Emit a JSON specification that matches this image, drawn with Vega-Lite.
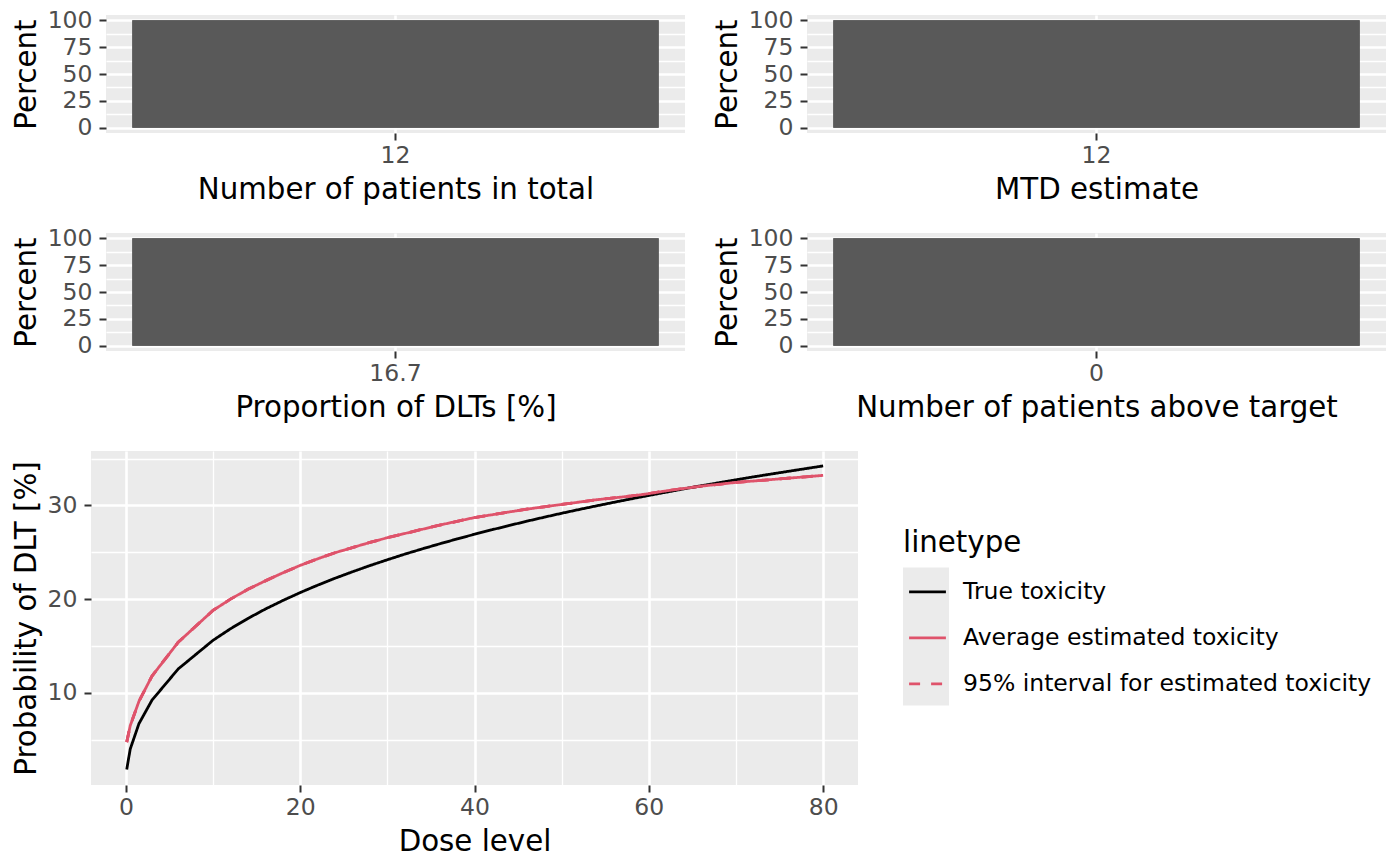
{
  "$schema": "https://vega.github.io/schema/vega-lite/v6.json",
  "description": "Simulation summary: bar panels and true vs estimated toxicity curves.",
  "padding": {"left": 12, "top": 8, "right": 5, "bottom": 5},
  "background": "white",
  "datasets": {
    "bars": [
      {"panel": "Number of patients in total", "value": "12", "percent": 100},
      {"panel": "MTD estimate", "value": "12", "percent": 100},
      {"panel": "Proportion of DLTs [%]", "value": "16.7", "percent": 100},
      {"panel": "Number of patients above target", "value": "0", "percent": 100}
    ],
    "curves": [
      {"dose": 0.1, "True toxicity": 1.84, "Average estimated toxicity": 4.75, "lower": 4.75, "upper": 4.75},
      {"dose": 0.5, "True toxicity": 4.01, "Average estimated toxicity": 6.5, "lower": 6.5, "upper": 6.5},
      {"dose": 1.5, "True toxicity": 6.72, "Average estimated toxicity": 9.1, "lower": 9.1, "upper": 9.1},
      {"dose": 3, "True toxicity": 9.23, "Average estimated toxicity": 11.8, "lower": 11.8, "upper": 11.8},
      {"dose": 6, "True toxicity": 12.55, "Average estimated toxicity": 15.4, "lower": 15.4, "upper": 15.4},
      {"dose": 10, "True toxicity": 15.61, "Average estimated toxicity": 18.8, "lower": 18.8, "upper": 18.8},
      {"dose": 12, "True toxicity": 16.84, "Average estimated toxicity": 20.0, "lower": 20.0, "upper": 20.0},
      {"dose": 14, "True toxicity": 17.94, "Average estimated toxicity": 21.05, "lower": 21.05, "upper": 21.05},
      {"dose": 16, "True toxicity": 18.94, "Average estimated toxicity": 21.95, "lower": 21.95, "upper": 21.95},
      {"dose": 18, "True toxicity": 19.85, "Average estimated toxicity": 22.8, "lower": 22.8, "upper": 22.8},
      {"dose": 20, "True toxicity": 20.7, "Average estimated toxicity": 23.6, "lower": 23.6, "upper": 23.6},
      {"dose": 22, "True toxicity": 21.49, "Average estimated toxicity": 24.3, "lower": 24.3, "upper": 24.3},
      {"dose": 24, "True toxicity": 22.23, "Average estimated toxicity": 24.95, "lower": 24.95, "upper": 24.95},
      {"dose": 26, "True toxicity": 22.92, "Average estimated toxicity": 25.5, "lower": 25.5, "upper": 25.5},
      {"dose": 28, "True toxicity": 23.58, "Average estimated toxicity": 26.05, "lower": 26.05, "upper": 26.05},
      {"dose": 30, "True toxicity": 24.2, "Average estimated toxicity": 26.55, "lower": 26.55, "upper": 26.55},
      {"dose": 32, "True toxicity": 24.8, "Average estimated toxicity": 27.0, "lower": 27.0, "upper": 27.0},
      {"dose": 34, "True toxicity": 25.36, "Average estimated toxicity": 27.45, "lower": 27.45, "upper": 27.45},
      {"dose": 36, "True toxicity": 25.9, "Average estimated toxicity": 27.9, "lower": 27.9, "upper": 27.9},
      {"dose": 38, "True toxicity": 26.42, "Average estimated toxicity": 28.3, "lower": 28.3, "upper": 28.3},
      {"dose": 40, "True toxicity": 26.92, "Average estimated toxicity": 28.7, "lower": 28.7, "upper": 28.7},
      {"dose": 42, "True toxicity": 27.4, "Average estimated toxicity": 29.0, "lower": 29.0, "upper": 29.0},
      {"dose": 44, "True toxicity": 27.86, "Average estimated toxicity": 29.3, "lower": 29.3, "upper": 29.3},
      {"dose": 46, "True toxicity": 28.31, "Average estimated toxicity": 29.6, "lower": 29.6, "upper": 29.6},
      {"dose": 48, "True toxicity": 28.74, "Average estimated toxicity": 29.85, "lower": 29.85, "upper": 29.85},
      {"dose": 50, "True toxicity": 29.16, "Average estimated toxicity": 30.1, "lower": 30.1, "upper": 30.1},
      {"dose": 52, "True toxicity": 29.56, "Average estimated toxicity": 30.35, "lower": 30.35, "upper": 30.35},
      {"dose": 54, "True toxicity": 29.95, "Average estimated toxicity": 30.6, "lower": 30.6, "upper": 30.6},
      {"dose": 56, "True toxicity": 30.33, "Average estimated toxicity": 30.8, "lower": 30.8, "upper": 30.8},
      {"dose": 58, "True toxicity": 30.7, "Average estimated toxicity": 31.0, "lower": 31.0, "upper": 31.0},
      {"dose": 60, "True toxicity": 31.06, "Average estimated toxicity": 31.25, "lower": 31.25, "upper": 31.25},
      {"dose": 62, "True toxicity": 31.41, "Average estimated toxicity": 31.55, "lower": 31.55, "upper": 31.55},
      {"dose": 64, "True toxicity": 31.76, "Average estimated toxicity": 31.8, "lower": 31.8, "upper": 31.8},
      {"dose": 66, "True toxicity": 32.09, "Average estimated toxicity": 32.05, "lower": 32.05, "upper": 32.05},
      {"dose": 68, "True toxicity": 32.41, "Average estimated toxicity": 32.25, "lower": 32.25, "upper": 32.25},
      {"dose": 70, "True toxicity": 32.73, "Average estimated toxicity": 32.45, "lower": 32.45, "upper": 32.45},
      {"dose": 72, "True toxicity": 33.04, "Average estimated toxicity": 32.6, "lower": 32.6, "upper": 32.6},
      {"dose": 74, "True toxicity": 33.34, "Average estimated toxicity": 32.75, "lower": 32.75, "upper": 32.75},
      {"dose": 76, "True toxicity": 33.63, "Average estimated toxicity": 32.9, "lower": 32.9, "upper": 32.9},
      {"dose": 78, "True toxicity": 33.92, "Average estimated toxicity": 33.05, "lower": 33.05, "upper": 33.05},
      {"dose": 80, "True toxicity": 34.21, "Average estimated toxicity": 33.2, "lower": 33.2, "upper": 33.2}
    ]
  },
  "spacing": 28,
  "vconcat": [
    {
      "bounds": "flush",
      "spacing": 14,
      "hconcat": [
        {
          "width": 1,
          "height": 1,
          "view": {"fill": null, "stroke": null},
          "data": {"values": []},
          "mark": {"type": "point", "opacity": 0}
        },
        {
          "spacing": 21,
          "vconcat": [
            {
              "spacing": 28,
              "hconcat": [
                {
                  "width": 579,
                  "height": 118,
                  "data": {"name": "bars"},
                  "transform": [{"filter": {"field": "panel", "equal": "Number of patients in total"}}],
                  "layer": [
                    {
                      "mark": {"type": "bar", "color": "#595959"},
                      "encoding": {
                        "x": {"field": "value", "type": "nominal", "title": "Number of patients in total", "scale": {"paddingInner": 0, "paddingOuter": 0.05}, "axis": {"orient": "bottom", "grid": true, "labelAngle": 0, "bandPosition": 0.5}},
                        "y": {"field": "percent", "type": "quantitative", "title": "Percent", "scale": {"domain": [-5, 105], "nice": false}, "axis": {"orient": "left", "grid": true, "values": [0, 25, 50, 75, 100]}},
                        "y2": {"datum": 0}
                      }
                    },
                    {
                      "mark": {"type": "bar", "color": "#595959"},
                      "encoding": {
                        "x": {"field": "value", "type": "nominal"},
                        "y": {"field": "percent", "type": "quantitative", "axis": {"orient": "right", "grid": true, "values": [12.5, 37.5, 62.5, 87.5], "labels": false, "ticks": false, "title": null, "gridWidth": 1.3}},
                        "y2": {"datum": 0}
                      }
                    }
                  ]
                },
                {
                  "width": 579,
                  "height": 118,
                  "data": {"name": "bars"},
                  "transform": [{"filter": {"field": "panel", "equal": "MTD estimate"}}],
                  "layer": [
                    {
                      "mark": {"type": "bar", "color": "#595959"},
                      "encoding": {
                        "x": {"field": "value", "type": "nominal", "title": "MTD estimate", "scale": {"paddingInner": 0, "paddingOuter": 0.05}, "axis": {"orient": "bottom", "grid": true, "labelAngle": 0, "bandPosition": 0.5}},
                        "y": {"field": "percent", "type": "quantitative", "title": "Percent", "scale": {"domain": [-5, 105], "nice": false}, "axis": {"orient": "left", "grid": true, "values": [0, 25, 50, 75, 100]}},
                        "y2": {"datum": 0}
                      }
                    },
                    {
                      "mark": {"type": "bar", "color": "#595959"},
                      "encoding": {
                        "x": {"field": "value", "type": "nominal"},
                        "y": {"field": "percent", "type": "quantitative", "axis": {"orient": "right", "grid": true, "values": [12.5, 37.5, 62.5, 87.5], "labels": false, "ticks": false, "title": null, "gridWidth": 1.3}},
                        "y2": {"datum": 0}
                      }
                    }
                  ]
                }
              ]
            },
            {
              "spacing": 28,
              "hconcat": [
                {
                  "width": 579,
                  "height": 118,
                  "data": {"name": "bars"},
                  "transform": [{"filter": {"field": "panel", "equal": "Proportion of DLTs [%]"}}],
                  "layer": [
                    {
                      "mark": {"type": "bar", "color": "#595959"},
                      "encoding": {
                        "x": {"field": "value", "type": "nominal", "title": "Proportion of DLTs [%]", "scale": {"paddingInner": 0, "paddingOuter": 0.05}, "axis": {"orient": "bottom", "grid": true, "labelAngle": 0, "bandPosition": 0.5}},
                        "y": {"field": "percent", "type": "quantitative", "title": "Percent", "scale": {"domain": [-5, 105], "nice": false}, "axis": {"orient": "left", "grid": true, "values": [0, 25, 50, 75, 100]}},
                        "y2": {"datum": 0}
                      }
                    },
                    {
                      "mark": {"type": "bar", "color": "#595959"},
                      "encoding": {
                        "x": {"field": "value", "type": "nominal"},
                        "y": {"field": "percent", "type": "quantitative", "axis": {"orient": "right", "grid": true, "values": [12.5, 37.5, 62.5, 87.5], "labels": false, "ticks": false, "title": null, "gridWidth": 1.3}},
                        "y2": {"datum": 0}
                      }
                    }
                  ]
                },
                {
                  "width": 579,
                  "height": 118,
                  "data": {"name": "bars"},
                  "transform": [{"filter": {"field": "panel", "equal": "Number of patients above target"}}],
                  "layer": [
                    {
                      "mark": {"type": "bar", "color": "#595959"},
                      "encoding": {
                        "x": {"field": "value", "type": "nominal", "title": "Number of patients above target", "scale": {"paddingInner": 0, "paddingOuter": 0.05}, "axis": {"orient": "bottom", "grid": true, "labelAngle": 0, "bandPosition": 0.5}},
                        "y": {"field": "percent", "type": "quantitative", "title": "Percent", "scale": {"domain": [-5, 105], "nice": false}, "axis": {"orient": "left", "grid": true, "values": [0, 25, 50, 75, 100]}},
                        "y2": {"datum": 0}
                      }
                    },
                    {
                      "mark": {"type": "bar", "color": "#595959"},
                      "encoding": {
                        "x": {"field": "value", "type": "nominal"},
                        "y": {"field": "percent", "type": "quantitative", "axis": {"orient": "right", "grid": true, "values": [12.5, 37.5, 62.5, 87.5], "labels": false, "ticks": false, "title": null, "gridWidth": 1.3}},
                        "y2": {"datum": 0}
                      }
                    }
                  ]
                }
              ]
            }
          ]
        }
      ]
    },
    {
      "width": 767,
      "height": 334,
      "view": {"fill": "#EBEBEB", "stroke": null},
      "data": {"name": "curves"},
      "layer": [
        {
          "transform": [{"fold": ["lower", "upper"], "as": ["bound", "prob"]}],
          "mark": {"type": "line", "strokeWidth": 2.8},
          "encoding": {
            "x": {"field": "dose", "type": "quantitative", "axis": {"orient": "top", "grid": true, "values": [10, 30, 50, 70], "labels": false, "ticks": false, "title": null, "gridWidth": 1.3}},
            "y": {"field": "prob", "type": "quantitative", "axis": {"orient": "right", "grid": true, "values": [5, 15, 25, 35], "labels": false, "ticks": false, "title": null, "gridWidth": 1.3}},
            "stroke": {"datum": "95% interval for estimated toxicity"},
            "strokeDash": {"datum": "95% interval for estimated toxicity"},
            "detail": {"field": "bound", "type": "nominal"}
          }
        },
        {
          "transform": [{"fold": ["True toxicity", "Average estimated toxicity"], "as": ["series", "prob"]}],
          "mark": {"type": "line", "strokeWidth": 2.8},
          "encoding": {
            "x": {"field": "dose", "type": "quantitative", "title": "Dose level", "scale": {"domain": [-4, 84], "nice": false, "zero": false}, "axis": {"orient": "bottom", "grid": true, "values": [0, 20, 40, 60, 80]}},
            "y": {"field": "prob", "type": "quantitative", "title": "Probability of DLT [%]", "scale": {"domain": [0.18, 35.8], "nice": false, "zero": false}, "axis": {"orient": "left", "grid": true, "values": [10, 20, 30]}},
            "stroke": {
              "field": "series",
              "type": "nominal",
              "scale": {"domain": ["True toxicity", "Average estimated toxicity", "95% interval for estimated toxicity"], "range": ["#000000", "#DF536B", "#DF536B"]},
              "legend": {"title": "linetype", "orient": "none", "legendX": 812, "legendY": 514, "symbolType": "M-0.8,0H0.8", "symbolSize": 2116, "symbolStrokeWidth": 2.8, "labelOffset": 11, "labelLimit": 0, "rowPadding": 10, "titlePadding": 9, "zindex": 1}
            },
            "strokeDash": {
              "field": "series",
              "type": "nominal",
              "scale": {"domain": ["True toxicity", "Average estimated toxicity", "95% interval for estimated toxicity"], "range": [[1, 0], [1, 0], [11, 11]]},
              "legend": {"title": "linetype", "orient": "none", "legendX": 812, "legendY": 514, "symbolType": "M-0.8,0H0.8", "symbolSize": 2116, "symbolStrokeWidth": 2.8, "labelOffset": 11, "labelLimit": 0, "rowPadding": 10, "titlePadding": 9, "zindex": 1}
            }
          }
        },
        {
          "transform": [{"filter": "false"}],
          "mark": {"type": "square", "opacity": 1, "filled": true},
          "encoding": {
            "color": {
              "field": "key",
              "type": "nominal",
              "scale": {"domain": ["k1"], "range": ["#EBEBEB"]},
              "legend": {"title": "linetype", "titleOpacity": 0, "orient": "none", "legendX": 812, "legendY": 514, "symbolType": "M-1,-0.9H1V5.1H-1Z", "symbolSize": 2116, "symbolStrokeWidth": 0, "symbolOpacity": 1, "labelExpr": "''", "labelOffset": 11, "titlePadding": 7, "zindex": 0}
            }
          }
        }
      ]
    }
  ],
  "config": {
    "font": "DejaVu Sans",
    "view": {"fill": "#EBEBEB", "stroke": null},
    "axis": {
      "domain": false,
      "grid": true,
      "gridColor": "#FFFFFF",
      "gridWidth": 2.6,
      "tickColor": "#333333",
      "tickSize": 7,
      "tickWidth": 2,
      "labelColor": "#4D4D4D",
      "labelFontSize": 23.5,
      "labelFlush": false,
      "labelOverlap": false,
      "titleFontSize": 29.3,
      "titleFontWeight": "normal",
      "titleColor": "#000000",
      "titlePadding": 6
    },
    "axisX": {"labelPadding": 3, "titlePadding": 9},
    "axisY": {"labelPadding": 7},
    "legend": {
      "labelFontSize": 23.5,
      "labelColor": "#000000",
      "titleFontSize": 29.3,
      "titleFontWeight": "normal",
      "titleColor": "#000000"
    }
  }
}
